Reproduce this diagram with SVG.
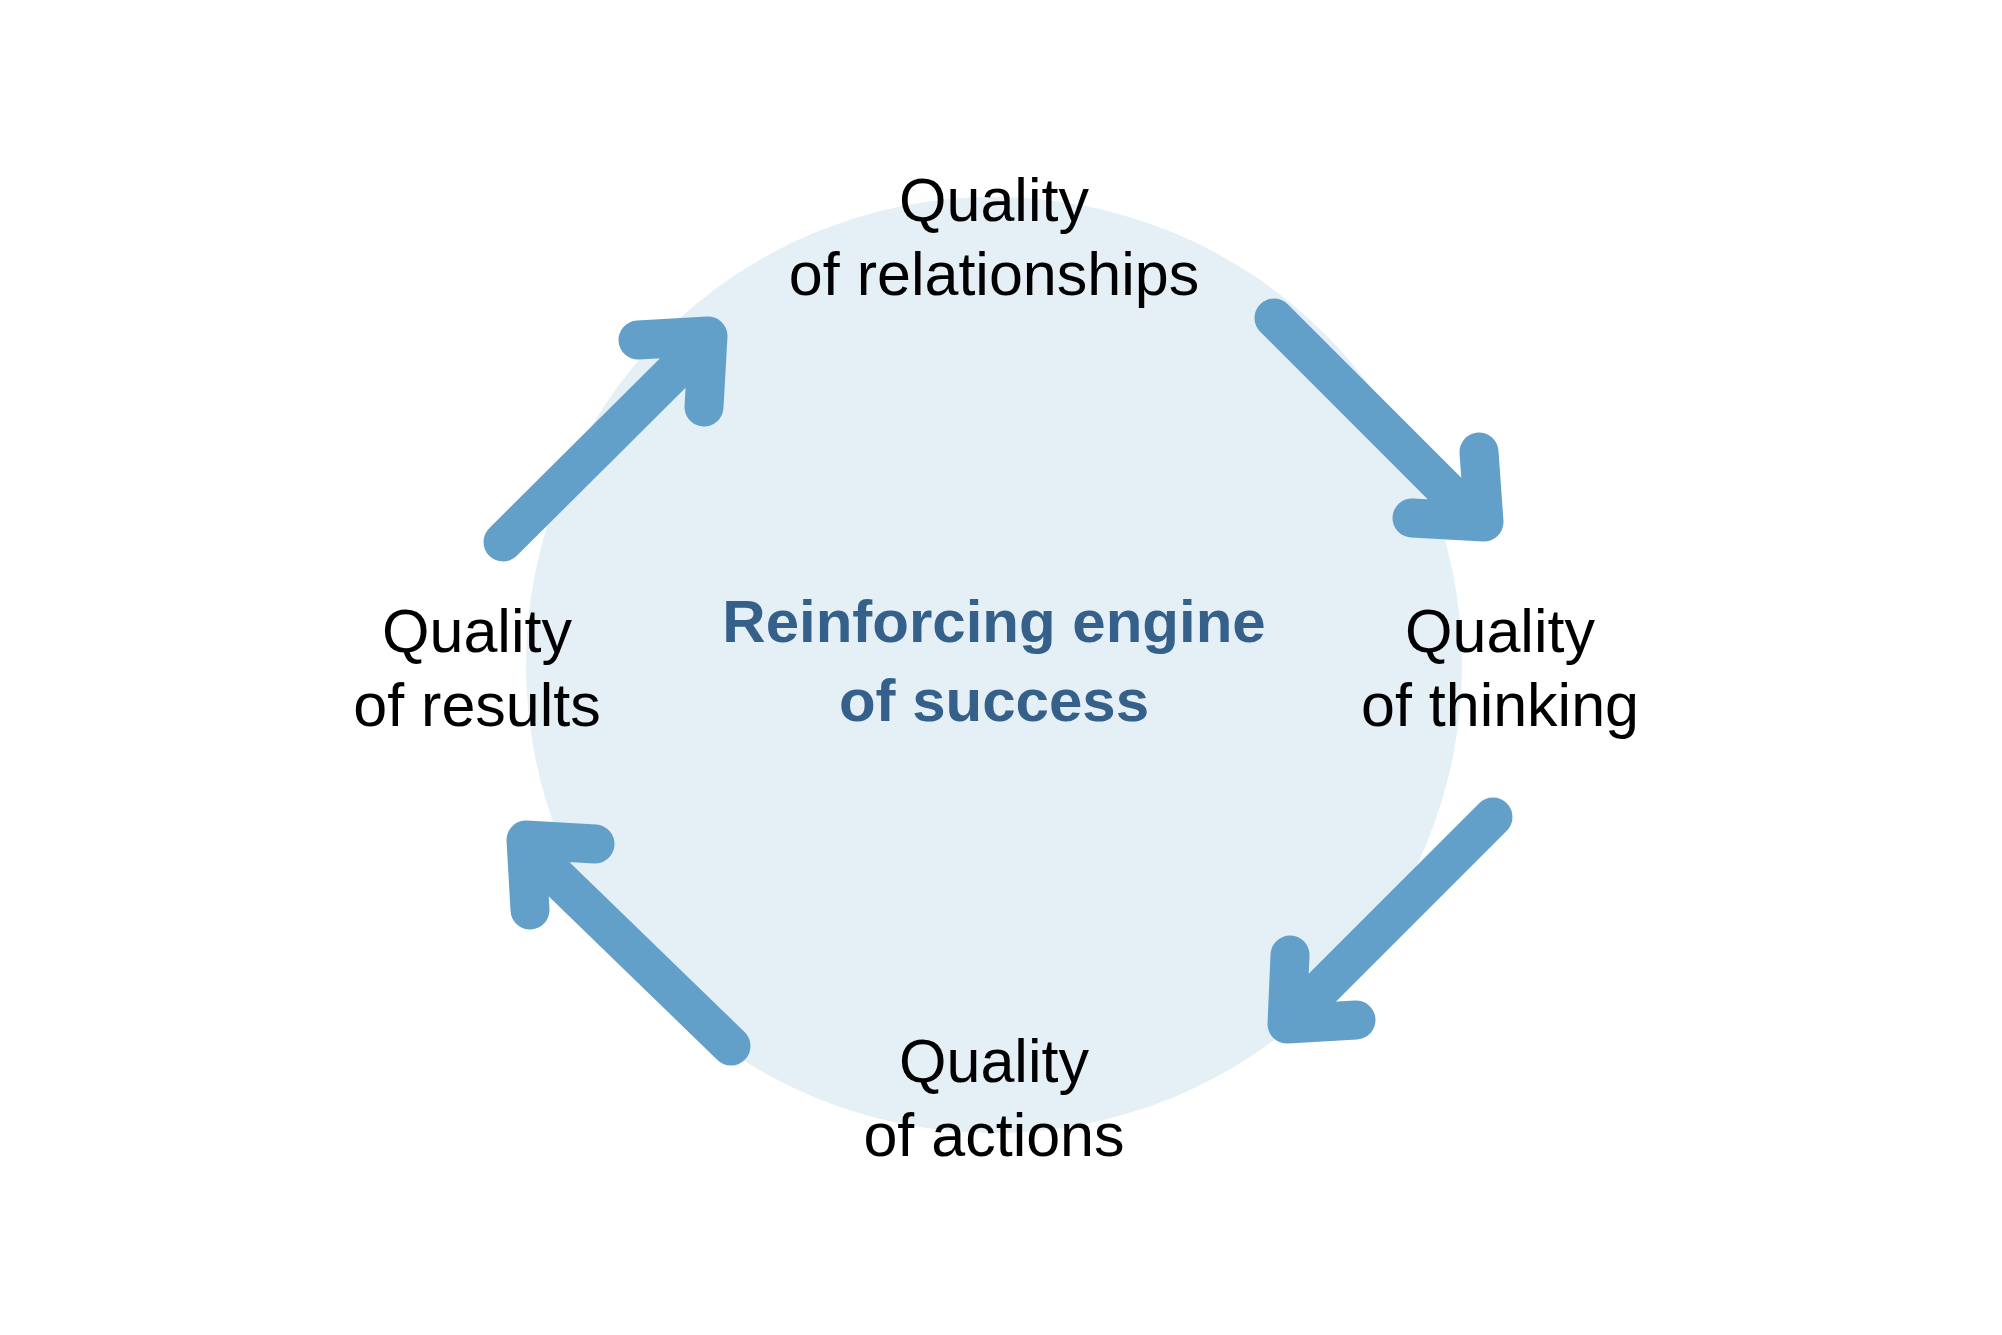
<svg xmlns="http://www.w3.org/2000/svg" width="2002" height="1335" viewBox="0 0 2002 1335">
<style>
.lbl{font-family:"Liberation Sans",Arial,sans-serif;font-size:61px;fill:#000;text-anchor:middle}
.ctr{font-family:"Liberation Sans",Arial,sans-serif;font-size:60px;font-weight:bold;fill:#356089;text-anchor:middle}
.arr{fill:none;stroke:#63a0c9;stroke-width:39;stroke-linecap:round;stroke-linejoin:round}
</style>
<rect width="2002" height="1335" fill="#fff"/>
<g id="engine"><circle cx="994" cy="665" r="468" fill="#e4eff6"/>
<text class="ctr" x="994" y="642">Reinforcing engine</text><text class="ctr" x="994" y="721">of success</text></g>
<g id="relationships"><text class="lbl" x="994" y="221">Quality</text><text class="lbl" x="994" y="295">of relationships</text></g>
<g id="thinking"><text class="lbl" x="1500" y="652">Quality</text><text class="lbl" x="1500" y="726">of thinking</text></g>
<g id="actions"><text class="lbl" x="994" y="1082">Quality</text><text class="lbl" x="994" y="1156">of actions</text></g>
<g id="results"><text class="lbl" x="477" y="652">Quality</text><text class="lbl" x="477" y="726">of results</text></g>
<g id="connectors">
<path class="arr" d="M503 542 L706 340 M638 340 L708 336 L704 407"/>
<path class="arr" d="M1274 318 L1476 520 M1412 518 L1484 522 L1479 452"/>
<path class="arr" d="M1493 817 L1296 1014 M1290 955 L1287 1024 L1356 1020"/>
<path class="arr" d="M731 1046 L531 852 M595 844 L526 840 L530 910"/>
</g>
</svg>
